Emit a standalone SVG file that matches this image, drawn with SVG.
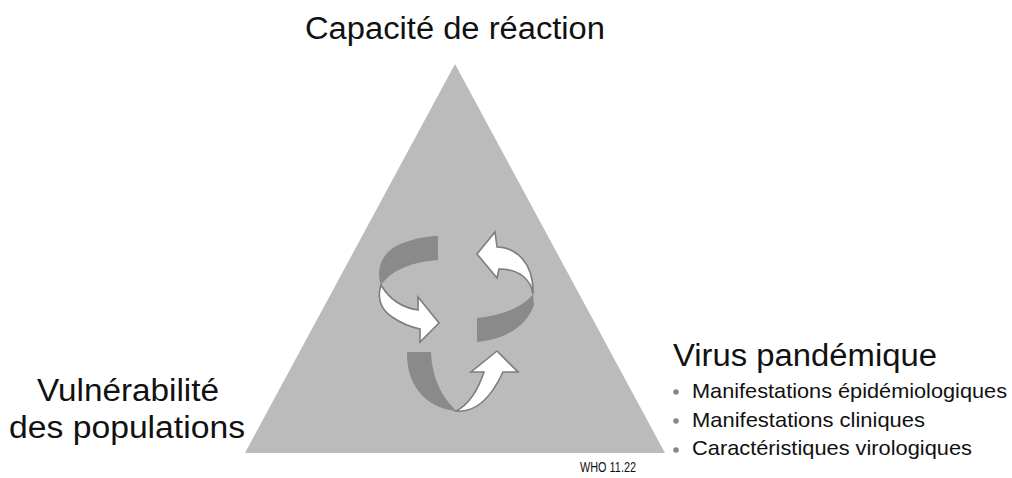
<svg xmlns="http://www.w3.org/2000/svg" width="1012" height="478" viewBox="0 0 1012 478">
  <style>
    .lbl { font-family: "Liberation Sans Narrow", "Liberation Sans", Arial, sans-serif; fill: #111; }
    .big { font-size: 31px; }
    .item { font-size: 21px; }
    .band { fill: #8a8a8a; }
    .arrow { fill: #ffffff; stroke: #7d7d7d; stroke-width: 1.6; stroke-linejoin: miter; }
    .dot { fill: #888888; }
  </style>
  <rect width="1012" height="478" fill="#ffffff"/>

  <g id="triangle">
    <polygon points="455,64 245,453 665,453" fill="#bbbbbb"/>
  </g>

  <!-- cycle of three twisted arrows inside the triangle -->
  <g id="connectors">
    <g id="cycle-left">
      <path class="band" d="M438,236 L438,260 C415,262 393,268 381,285 C375,268 383,250 403,243 C417,238 428,236 438,236 Z"/>
      <path class="arrow" d="M381,285 C377,297 380,309 392,317 C401,323 410,327 420,329 L420,342 L439,323 L418,297 L418,310 C405,308 391,302 381,285 Z"/>
    </g>
    <g id="cycle-right">
      <path class="arrow" d="M533,294 C531,280 520,269 499,269 L497,278 L477,254 L495,232 L497,247 C515,247 534,262 533,294 Z"/>
      <path class="band" d="M533,294 C524,306 505,315 477,318 L477,342 C500,340 525,330 534,305 Z"/>
    </g>
    <g id="cycle-bottom">
      <path class="band" d="M407,352 L431,352 C432,378 442,398 457,411 C434,410 406,392 407,352 Z"/>
      <path class="arrow" d="M456,411 C475,413 490,400 503,372 L518,372 L497,351 L471,372 L484,372 C478,390 470,404 456,411 Z"/>
    </g>
  </g>

  <g id="node-capacite">
    <text class="lbl big" x="455" y="39" text-anchor="middle" textLength="300" lengthAdjust="spacingAndGlyphs">Capacité de réaction</text>
  </g>

  <g id="node-vulnerabilite">
    <text class="lbl big" x="128" y="401" text-anchor="middle" textLength="182" lengthAdjust="spacingAndGlyphs">Vulnérabilité</text>
    <text class="lbl big" x="127" y="438" text-anchor="middle" textLength="236" lengthAdjust="spacingAndGlyphs">des populations</text>
  </g>

  <g id="node-virus">
    <text class="lbl big" x="673" y="366" textLength="264" lengthAdjust="spacingAndGlyphs">Virus pandémique</text>
    <circle class="dot" cx="676" cy="392" r="2.8"/>
    <text class="lbl item" x="692" y="398" textLength="315" lengthAdjust="spacingAndGlyphs">Manifestations épidémiologiques</text>
    <circle class="dot" cx="676" cy="421" r="2.8"/>
    <text class="lbl item" x="692" y="427" textLength="233" lengthAdjust="spacingAndGlyphs">Manifestations cliniques</text>
    <circle class="dot" cx="676" cy="450" r="2.8"/>
    <text class="lbl item" x="692" y="455" textLength="280" lengthAdjust="spacingAndGlyphs">Caractéristiques virologiques</text>
  </g>

  <g id="credit">
    <text class="lbl" x="580" y="472" font-size="15" textLength="56" lengthAdjust="spacingAndGlyphs">WHO 11.22</text>
  </g>
</svg>
